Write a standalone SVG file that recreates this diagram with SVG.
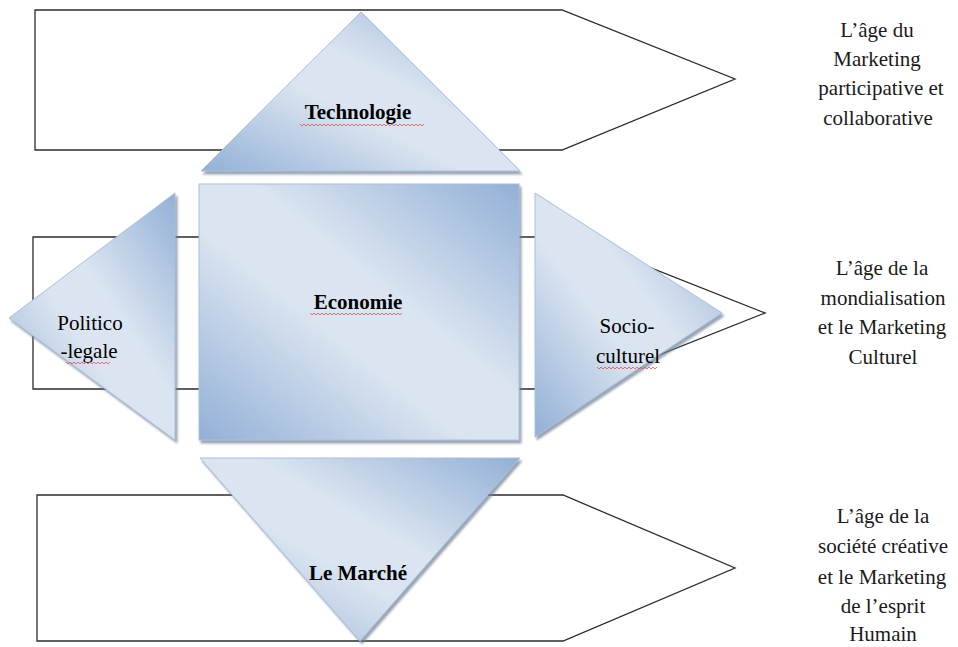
<svg xmlns="http://www.w3.org/2000/svg" width="958" height="647" viewBox="0 0 958 647">
  <defs>
    <linearGradient id="blueFill" x1="0" y1="1" x2="1" y2="0">
      <stop offset="0" stop-color="#92b0d6"/>
      <stop offset="0.42" stop-color="#dbe5f1"/>
      <stop offset="0.58" stop-color="#dbe5f1"/>
      <stop offset="1" stop-color="#92b0d6"/>
    </linearGradient>
    <filter id="shadow" x="-10%" y="-10%" width="125%" height="125%">
      <feDropShadow dx="2" dy="3" stdDeviation="1" flood-color="#6f7f92" flood-opacity="0.7"/>
    </filter>
  </defs>
  <style>
    .band { fill: #ffffff; stroke: #2b2b2b; stroke-width: 1.3; }
    .shape { fill: url(#blueFill); stroke: #a9c0dd; stroke-width: 1; filter: url(#shadow); }
    text { font-family: "Liberation Serif", "Times New Roman", serif; text-anchor: middle; }
    .title { font-weight: bold; font-size: 21px; fill: #000; }
    .side { font-size: 21px; fill: #000; }
    .age { font-size: 21px; fill: #1a1a1a; }
    .spell { fill: none; stroke: #e05050; stroke-width: 0.8; }
  </style>

  <rect width="958" height="647" fill="#ffffff"/>

  <!-- background arrow bands -->
  <g id="bands">
    <polygon id="band-top" class="band" points="35,10 562,10 735,79 562,150 35,150"/>
    <polygon id="band-middle" class="band" points="33,237 573,237 765,313 573,389 33,389"/>
    <polygon id="band-bottom" class="band" points="37,495 563,495 735,568 563,641 37,641"/>
  </g>

  <!-- environment shapes -->
  <g id="technologie">
    <polygon class="shape" points="361,12 520,171 201,171"/>
    <text class="title" x="358" y="119" font-family="Liberation Serif, serif">Technologie</text>
  </g>

  <g id="economie">
    <rect class="shape" x="199" y="184" width="320" height="256"/>
    <text class="title" x="358" y="309" font-family="Liberation Serif, serif">Economie</text>
  </g>

  <g id="politico-legale">
    <polygon class="shape" points="175,193 175,440 9,318"/>
    <text class="side" x="90" y="330" font-family="Liberation Serif, serif">Politico</text>
    <text class="side" x="89" y="358" font-family="Liberation Serif, serif">-legale</text>
  </g>

  <g id="socio-culturel">
    <polygon class="shape" points="535,193 722,313 535,437"/>
    <text class="side" x="627" y="333" font-family="Liberation Serif, serif">Socio-</text>
    <text class="side" x="628" y="363" font-family="Liberation Serif, serif">culturel</text>
  </g>

  <g id="le-marche">
    <polygon class="shape" points="200,458 520,458 360,641"/>
    <text class="title" x="358" y="580" font-family="Liberation Serif, serif">Le Marché</text>
  </g>

  <!-- spell-check underlines -->
  <g id="underlines" class="spell">
    <path d="M300 124 l2 2 l2 -2 l2 2 l2 -2 l2 2 l2 -2 l2 2 l2 -2 l2 2 l2 -2 l2 2 l2 -2 l2 2 l2 -2 l2 2 l2 -2 l2 2 l2 -2 l2 2 l2 -2 l2 2 l2 -2 l2 2 l2 -2 l2 2 l2 -2 l2 2 l2 -2 l2 2 l2 -2 l2 2 l2 -2 l2 2 l2 -2 l2 2 l2 -2 l2 2 l2 -2 l2 2 l2 -2 l2 2 l2 -2 l2 2 l2 -2 l2 2 l2 -2 l2 2 l2 -2 l2 2 l2 -2 l2 2 l2 -2 l2 2 l2 -2 l2 2 l2 -2 l2 2 l2 -2 l2 2 l2 -2 l2 2 l2 -2"/>
    <path d="M310 313 l2 2 l2 -2 l2 2 l2 -2 l2 2 l2 -2 l2 2 l2 -2 l2 2 l2 -2 l2 2 l2 -2 l2 2 l2 -2 l2 2 l2 -2 l2 2 l2 -2 l2 2 l2 -2 l2 2 l2 -2 l2 2 l2 -2 l2 2 l2 -2 l2 2 l2 -2 l2 2 l2 -2 l2 2 l2 -2 l2 2 l2 -2 l2 2 l2 -2 l2 2 l2 -2 l2 2 l2 -2 l2 2 l2 -2 l2 2 l2 -2 l2 2 l2 -2"/>
    <path d="M66 362 l2 2 l2 -2 l2 2 l2 -2 l2 2 l2 -2 l2 2 l2 -2 l2 2 l2 -2 l2 2 l2 -2 l2 2 l2 -2 l2 2 l2 -2 l2 2 l2 -2 l2 2 l2 -2 l2 2 l2 -2"/>
    <path d="M597 367 l2 2 l2 -2 l2 2 l2 -2 l2 2 l2 -2 l2 2 l2 -2 l2 2 l2 -2 l2 2 l2 -2 l2 2 l2 -2 l2 2 l2 -2 l2 2 l2 -2 l2 2 l2 -2 l2 2 l2 -2 l2 2 l2 -2 l2 2 l2 -2 l2 2 l2 -2 l2 2 l2 -2"/>
  </g>

  <!-- era captions -->
  <g id="era-1">
    <text class="age" x="877" y="37">L’âge du</text>
    <text class="age" x="877" y="66">Marketing</text>
    <text class="age" x="881" y="95">participative et</text>
    <text class="age" x="878" y="125">collaborative</text>
  </g>
  <g id="era-2">
    <text class="age" x="882" y="275">L’âge  de la</text>
    <text class="age" x="883" y="305">mondialisation</text>
    <text class="age" x="882" y="334">et le Marketing</text>
    <text class="age" x="883" y="364">Culturel</text>
  </g>
  <g id="era-3">
    <text class="age" x="883" y="523">L’âge de la</text>
    <text class="age" x="883" y="553">société créative</text>
    <text class="age" x="882" y="584">et le  Marketing</text>
    <text class="age" x="883" y="613">de l’esprit</text>
    <text class="age" x="883" y="641">Humain</text>
  </g>
</svg>
